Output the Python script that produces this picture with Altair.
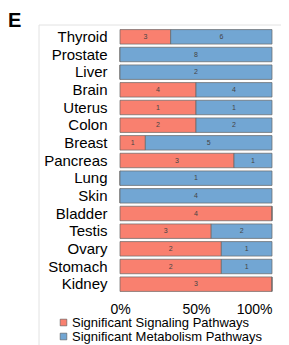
import altair as alt
import pandas as pd

tissues = ["Thyroid", "Prostate", "Liver", "Brain", "Uterus", "Colon", "Breast",
           "Pancreas", "Lung", "Skin", "Bladder", "Testis", "Ovary", "Stomach", "Kidney"]
signaling = [3, 0, 0, 4, 1, 2, 1, 3, 0, 0, 4, 3, 2, 2, 3]
metabolism = [6, 8, 2, 4, 1, 2, 5, 1, 1, 4, 0, 2, 1, 1, 0]
series = ["Significant Signaling Pathways", "Significant Metabolism Pathways"]
colors = ["#F9806F", "#72A6D3"]
panel_letter = ["E"]

rows = []
for t, s, m in zip(tissues, signaling, metabolism):
    rows.append({"tissue": t, "series": series[0], "value": s, "order": 0})
    rows.append({"tissue": t, "series": series[1], "value": m, "order": 1})
df = pd.DataFrame(rows)

base = alt.Chart(df).transform_stack(
    stack="value", groupby=["tissue"], as_=["v0", "v1"], offset="normalize",
    sort=[alt.SortField("order", order="ascending")]
).transform_calculate(mid="(datum.v0 + datum.v1) / 2")

y_enc = alt.Y("tissue:N", sort=tissues, title=None,
              scale=alt.Scale(paddingInner=0.18, paddingOuter=0.09),
              axis=alt.Axis(labelFontSize=15, labelColor="#000", labelFont="Liberation Sans",
                            labelPadding=13, ticks=False, domain=False, labelLimit=200))

bars = base.mark_bar(stroke="#666", strokeWidth=0.7).encode(
    x=alt.X("v0:Q", scale=alt.Scale(domain=[0, 1], nice=False), title=None,
            axis=alt.Axis(values=[0, 0.5, 1], format=".0%", labelFontSize=14,
                          labelColor="#000", labelFont="Liberation Sans", labelPadding=9,
                          labelAlign=alt.ConditionalAxisLabelAlign(
                              condition={"test": "datum.value >= 1", "value": "right"},
                              value="center"),
                          ticks=False, domain=False, grid=False, labelFlush=False)),
    x2="v1:Q",
    y=y_enc,
    color=alt.Color("series:N", sort=series,
                    scale=alt.Scale(domain=series, range=colors),
                    legend=alt.Legend(title=None, orient="none", legendX=-63, legendY=288,
                                      direction="vertical",
                                      symbolType="square", symbolSize=44,
                                      symbolStrokeColor="#555", symbolStrokeWidth=0.6,
                                      labelFontSize=13, labelFont="Liberation Sans",
                                      labelColor="#000", labelOffset=2, rowPadding=0,
                                      labelLimit=300)),
)

labels = base.transform_filter("datum.value > 0").mark_text(
    fontSize=7, color="#444", font="Liberation Sans"
).encode(
    x=alt.X("mid:Q"),
    y=alt.Y("tissue:N", sort=tissues),
    text="value:Q",
)

letter = alt.Chart(pd.DataFrame({"t": panel_letter})).mark_text(
    align="left", baseline="alphabetic", fontSize=20, fontWeight="bold",
    font="Liberation Sans", color="#000"
).encode(x=alt.value(-112), y=alt.value(-1), text="t:N")

frame = alt.Chart(pd.DataFrame({"t": panel_letter})).mark_rect(
    filled=False, stroke="#e2e2e2", strokeWidth=1
).encode(x=alt.value(-81), x2=alt.value(200), y=alt.value(-3), y2=alt.value(400))

chart = alt.layer(frame, bars, labels, letter).properties(
    width=152, height=265,
    padding={"left": 112, "top": 20, "right": 9, "bottom": 52},
    autosize=alt.AutoSizeParams(type="none"),
).configure_view(stroke=None)

chart.save("out.html", embed_options={"renderer": "svg", "actions": False})
